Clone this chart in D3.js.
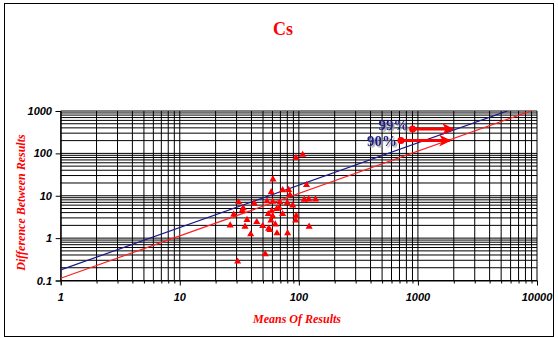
<!DOCTYPE html>
<html><head><meta charset="utf-8">
<script src="https://cdn.jsdelivr.net/npm/d3@7"></script>
<style>body{margin:0;background:#fff}svg{display:block}</style>
</head><body>
<script>
const title = "Cs";
const xTitle = "Means Of Results";
const yTitle = "Difference Between Results";
const xTicks = [1, 10, 100, 1000, 10000];
const yTicks = [0.1, 1, 10, 100, 1000];
const xTickLabels = ["1", "10", "100", "1000", "10000"];
const yTickLabels = ["0.1", "1", "10", "100", "1000"];
// Means of results (x) and difference between results (y)
const means = [107.6, 94.6, 116, 60.6, 58.6, 73.1, 82.1, 84.2, 31.2, 42.2, 54, 60.3, 69.4, 79.9, 88.8, 111, 121, 138,
  34.1, 33.5, 68.5, 65.1, 59.1, 28.4, 55.3, 60.3, 73.1, 95.1, 36.7, 58.3, 94, 44.3, 26.5, 35.3, 49.7, 63.4, 55.7, 57.2,
  122, 39.4, 65.5, 80.5, 52.2, 30.6];
const diffs = [92.7, 78.7, 17.9, 24.4, 12.2, 13.6, 13.8, 10.4, 7.0, 6.6, 7.4, 7.2, 7.0, 6.8, 5.9, 8.1, 8.2, 8.2,
  5.1, 4.5, 5.2, 4.9, 4.4, 3.6, 3.7, 3.3, 3.7, 3.4, 2.7, 2.6, 2.6, 2.4, 2.0, 1.86, 1.93, 2.1, 1.67, 1.55,
  1.86, 1.23, 1.30, 1.30, 0.42, 0.28];
// control limits: difference = factor * mean
const limitNames = ["99%", "90%"];
const limitFactors = [0.178, 0.113];
const limitColors = ["#1a1a8c", "#ff2020"];
// legend annotation positions in data units: label marker start and arrow end
const legendStartX = [902, 720];
const legendStartY = [374, 200];
const legendEndX = [1968, 1857];

const W = 558, H = 338;
const svg = d3.select("body").append("svg").attr("width", W).attr("height", H);
svg.append("rect").attr("x", 4.5).attr("y", 3.5).attr("width", 549).attr("height", 333)
  .attr("fill", "#fff").attr("stroke", "#000").attr("stroke-width", 1);

const x = d3.scaleLog().domain([1, 10000]).range([60.7, 537]);
const y = d3.scaleLog().domain([0.1, 1000]).range([280.5, 111]);

const g = svg.append("g");
const xGrid = [];
for (let e = 0; e < 4; e++) for (let m = 1; m <= 9; m++) xGrid.push(m * Math.pow(10, e));
xGrid.push(10000);
const yGrid = [];
for (let e = -1; e < 3; e++) for (let m = 1; m <= 9; m++) yGrid.push(+(m * Math.pow(10, e)).toPrecision(3));
yGrid.push(1000);

g.selectAll(".vg").data(xGrid).enter().append("line")
  .attr("x1", d => x(d)).attr("x2", d => x(d)).attr("y1", y(1000)).attr("y2", y(0.1))
  .attr("stroke", "#000").attr("stroke-width", 1);
g.selectAll(".hg").data(yGrid).enter().append("line")
  .attr("x1", x(1)).attr("x2", x(10000)).attr("y1", d => y(d)).attr("y2", d => y(d))
  .attr("stroke", "#000").attr("stroke-width", 1);

const xAxis = d3.axisBottom(x).tickValues(xGrid).tickSize(4).tickFormat("");
const xa = svg.append("g").attr("transform", `translate(0,${y(0.1)})`).call(xAxis);
xa.select(".domain").attr("stroke", "#000");
xa.selectAll(".tick line").attr("stroke", "#000").attr("y2", d => xTicks.includes(d) ? 5 : 3);
const yAxis = d3.axisLeft(y).tickValues(yTicks).tickSize(5).tickFormat("");
const ya = svg.append("g").attr("transform", `translate(${x(1)},0)`).call(yAxis);
ya.select(".domain").attr("stroke", "#000");

svg.selectAll(".xl").data(xTicks).enter().append("text")
  .attr("x", d => x(d)).attr("y", 301).attr("text-anchor", "middle")
  .attr("font-family", "Liberation Sans, Arial, sans-serif").attr("font-size", 11)
  .attr("font-weight", "bold").attr("font-style", "italic")
  .text((d, i) => xTickLabels[i]);
svg.selectAll(".yl").data(yTicks).enter().append("text")
  .attr("x", 52).attr("y", d => y(d) + 4).attr("text-anchor", "end")
  .attr("font-family", "Liberation Sans, Arial, sans-serif").attr("font-size", 11)
  .attr("font-weight", "bold").attr("font-style", "italic")
  .text((d, i) => yTickLabels[i]);

svg.append("clipPath").attr("id", "pc").append("rect")
  .attr("x", x(1)).attr("y", y(1000)).attr("width", x(10000) - x(1)).attr("height", y(0.1) - y(1000));
const lg = svg.append("g").attr("clip-path", "url(#pc)");
limitFactors.forEach((k, i) => {
  lg.append("line").attr("x1", x(1)).attr("y1", y(k * 1)).attr("x2", x(10000)).attr("y2", y(k * 10000))
    .attr("stroke", limitColors[i]).attr("stroke-width", 1.2);
});

const tri = d3.symbol().type(d3.symbolTriangle).size(22);
svg.selectAll(".pt").data(means).enter().append("path")
  .attr("d", tri).attr("fill", "#ff0000")
  .attr("transform", (d, i) => `translate(${x(d)},${y(diffs[i])})`);

const defs = svg.append("defs");
defs.append("marker").attr("id", "ah").attr("viewBox", "0 0 10 10").attr("refX", 9).attr("refY", 5)
  .attr("markerWidth", 4).attr("markerHeight", 4).attr("orient", "auto")
  .append("path").attr("d", "M0,0 L10,5 L0,10 L3,5 Z").attr("fill", "#ff0000");
const flt = defs.append("filter").attr("id", "sh").attr("x", "-20%").attr("y", "-20%").attr("width", "150%").attr("height", "150%");
flt.append("feDropShadow").attr("dx", 1.5).attr("dy", 1.5).attr("stdDeviation", 0.3)
  .attr("flood-color", "#999").attr("flood-opacity", 1);
const labelDy = [1, 5];
limitNames.forEach((nm, i) => {
  const sx = x(legendStartX[i]), sy = y(legendStartY[i]), ex = x(legendEndX[i]);
  svg.append("line").attr("x1", sx).attr("y1", sy).attr("x2", ex).attr("y2", sy)
    .attr("stroke", "#ff0000").attr("stroke-width", 3).attr("marker-end", "url(#ah)");
  svg.append("circle").attr("cx", sx).attr("cy", sy).attr("r", 3.5).attr("fill", "#ff0000");
  svg.append("text").attr("x", sx - 4).attr("y", sy + labelDy[i])
    .attr("text-anchor", "end").attr("font-family", "Liberation Serif, Times New Roman, serif")
    .attr("font-size", 15).attr("font-weight", "bold").attr("fill", "#1a1a8c")
    .attr("filter", "url(#sh)").text(nm);
});

svg.append("text").attr("x", 283).attr("y", 35).attr("text-anchor", "middle")
  .attr("font-family", "Liberation Serif, Times New Roman, serif").attr("font-size", 18)
  .attr("font-weight", "bold").attr("fill", "#ff0000").text(title);
svg.append("text").attr("x", 297).attr("y", 323).attr("text-anchor", "middle")
  .attr("font-family", "Liberation Serif, Times New Roman, serif").attr("font-size", 12)
  .attr("font-weight", "bold").attr("font-style", "italic").attr("fill", "#ff0000").text(xTitle);
svg.append("text").attr("transform", "translate(24.5,202.5) rotate(-90)").attr("text-anchor", "middle")
  .attr("font-family", "Liberation Serif, Times New Roman, serif").attr("font-size", 12)
  .attr("font-weight", "bold").attr("font-style", "italic").attr("fill", "#ff0000").text(yTitle);
</script>
</body></html>
